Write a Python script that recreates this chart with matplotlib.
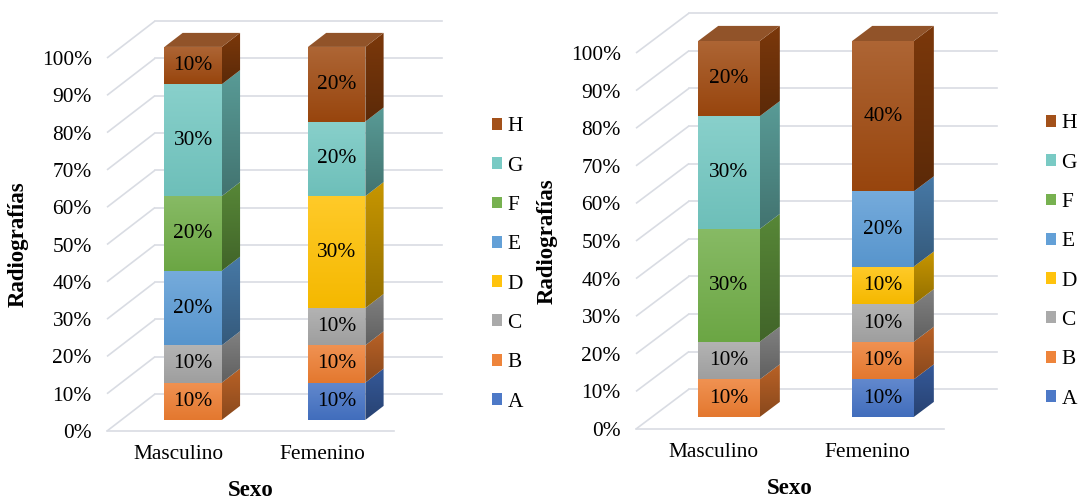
import numpy as np
import matplotlib
matplotlib.use("Agg")
import matplotlib.pyplot as plt
from matplotlib.patches import Polygon, Patch
from matplotlib.colors import to_rgb

plt.rcParams["font.family"] = ["Liberation Serif", "DejaVu Serif"]

# Categories and series
sexes = ["Masculino", "Femenino"]
series = ["A", "B", "C", "D", "E", "F", "G", "H"]
series_colors = ["#4472C4", "#ED7D31", "#A5A5A5", "#FFC000",
                 "#5B9BD5", "#70AD47", "#72C7C1", "#9E480E"]

# Percent values per series (A..H) for each sex, one pair per chart
left_masculino = [0, 10, 10, 0, 20, 20, 30, 10]
left_femenino = [10, 10, 10, 30, 0, 0, 20, 20]
right_masculino = [0, 10, 10, 0, 0, 30, 30, 20]
right_femenino = [10, 10, 10, 10, 20, 0, 0, 40]

y_ticks = list(range(0, 101, 10))
y_tick_labels = [f"{t}%" for t in y_ticks]

W, H = 1078, 501
fig = plt.figure(figsize=(W / 100, H / 100), dpi=100)

GRID = "#D9DCE3"
FS = 15.4
FS_TITLE = 16.5


def rgb(c):
    return np.array(to_rgb(c))


def shade(c, f):
    return np.clip(rgb(c) * f, 0, 1)


def tint(c, t):
    c = rgb(c)
    return c + (1 - c) * t


def gradient_face(ax, verts, top_col, bot_col, z):
    verts = np.asarray(verts, dtype=float)
    x0, x1 = verts[:, 0].min(), verts[:, 0].max()
    y0, y1 = verts[:, 1].min(), verts[:, 1].max()
    t = np.linspace(0, 1, 64)[:, None]
    img = (np.asarray(top_col)[None, :] * (1 - t)
           + np.asarray(bot_col)[None, :] * t)[:, None, :]
    im = ax.imshow(img, extent=(x0, x1, y0, y1), origin="upper",
                   aspect="auto", interpolation="bilinear", zorder=z)
    clip = Polygon(verts, closed=True, transform=ax.transData)
    im.set_clip_path(clip)


def draw_panel(box, values, dx, dy, ytop, legend_xy):
    left, right, bottom, top = box
    ax = fig.add_axes([left / W, 1 - bottom / H,
                       (right - left) / W, (bottom - top) / H])
    x_lo, x_hi = -0.5, 1.5
    ax.set_xlim(x_lo, x_hi + dx)
    ax.set_ylim(0, ytop)
    for s in ax.spines.values():
        s.set_visible(False)

    # walls: oblique side lines + back-wall gridlines
    for t in y_ticks:
        ax.plot([x_lo, x_lo + dx], [t, t + dy], color=GRID, lw=1.2,
                zorder=1, solid_capstyle="butt", clip_on=False)
        ax.plot([x_lo + dx, x_hi + dx], [t + dy, t + dy], color=GRID,
                lw=1.2, zorder=1, clip_on=False)
    ax.plot([x_lo, x_hi], [0, 0], color=GRID, lw=1.2, zorder=1,
            clip_on=False)

    d0, d1 = 0.30, 0.68
    width = 0.40
    dd = d1 - d0
    for i, vals in enumerate(values):
        base = 0.0
        last = None
        for k, v in enumerate(vals):
            if v == 0:
                continue
            c = series_colors[k]
            xl = i - width / 2 + d0 * dx
            xr = i + width / 2 + d0 * dx
            yb = base + d0 * dy
            yt = base + v + d0 * dy
            # front face
            gradient_face(ax, [(xl, yb), (xr, yb), (xr, yt), (xl, yt)],
                          tint(c, 0.16), shade(c, 0.96), 3)
            # right side face
            side = [(xr, yb), (xr + dd * dx, yb + dd * dy),
                    (xr + dd * dx, yt + dd * dy), (xr, yt)]
            gradient_face(ax, side, shade(c, 0.78), shade(c, 0.58), 2)
            ax.text((xl + xr) / 2, (yb + yt) / 2, f"{v}%", ha="center",
                    va="center", fontsize=FS, color="black", zorder=5)
            base += v
            last = (c, xl, xr, yt)
        if last is not None:
            c, xl, xr, yt = last
            topf = [(xl, yt), (xr, yt), (xr + dd * dx, yt + dd * dy),
                    (xl + dd * dx, yt + dd * dy)]
            ax.add_patch(Polygon(topf, closed=True,
                                 facecolor=tint(shade(c, 0.82), 0.12),
                                 edgecolor="none", zorder=2))

    ax.set_yticks(y_ticks, y_tick_labels)
    ax.set_xticks(range(len(sexes)), sexes)
    ax.tick_params(axis="y", length=0, pad=11, labelsize=FS)
    ax.tick_params(axis="x", length=0, pad=10, labelsize=FS)

    ax.annotate("Sexo", xy=(0.5, 0), xycoords=("data", "axes fraction"),
                xytext=(0, -59), textcoords="offset pixels", ha="center",
                va="center", fontsize=FS_TITLE, fontweight="bold",
                annotation_clip=False)
    ax.annotate("Radiografías", xy=(0, 50),
                xycoords=("axes fraction", "data"), xytext=(-89, 0),
                textcoords="offset pixels", ha="center", va="center",
                rotation=90, fontsize=FS_TITLE, fontweight="bold",
                annotation_clip=False)

    handles = [Patch(facecolor=tint(c, 0.05), edgecolor="none", label=s)
               for s, c in zip(series, series_colors)][::-1]
    ax.legend(handles=handles, loc="center left",
              bbox_to_anchor=(legend_xy[0] / W, 1 - legend_xy[1] / H),
              bbox_transform=fig.transFigure, frameon=False,
              fontsize=FS, handlelength=0.47, handleheight=0.47,
              handletextpad=0.25, labelspacing=0.95, borderpad=0,
              borderaxespad=0)
    return ax


draw_panel((107, 442, 431, 431 - 112 * 3.73),
           [left_masculino, left_femenino], 0.334, 9.9, 112, (492, 264.5))
draw_panel((636, 997, 429, 429 - 113 * 3.76),
           [right_masculino, right_femenino], 0.344, 10.6, 113, (1046, 261.5))

fig.savefig("out.png", dpi=100, facecolor="white")
